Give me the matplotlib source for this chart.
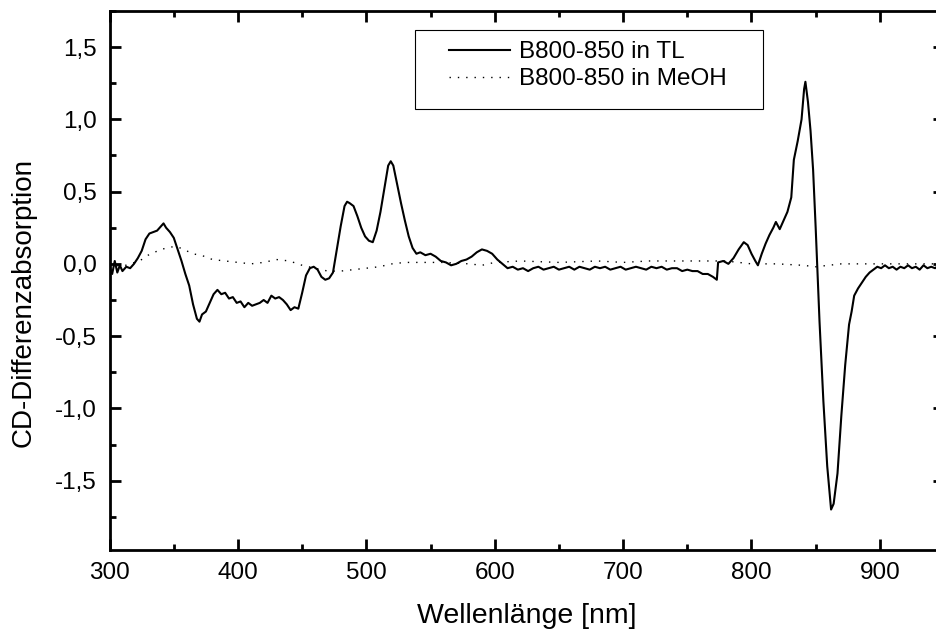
import numpy as np
import matplotlib.pyplot as plt
from matplotlib.patches import Rectangle
from matplotlib.ticker import FuncFormatter, MultipleLocator

plt.rcParams['font.family'] = ['Liberation Sans', 'DejaVu Sans']

# CD-Spektrum B800-850 in TL
wl_tl = [300, 302, 304, 306, 308, 310, 313, 316, 319, 322, 325, 328, 331, 334, 337,
         340, 342, 344, 347, 350, 353, 356, 359, 362, 365, 368, 370, 372, 375, 378,
         381, 384, 387, 390, 393, 396, 399, 402, 405, 408, 411, 414, 417, 420, 423,
         426, 429, 432, 435, 438, 441, 444, 447, 450, 453, 456, 459, 462, 465, 468,
         471, 474, 477, 480, 483, 485, 487, 490, 493, 496, 499, 502, 505, 508, 511,
         514, 517, 519, 521, 524, 527, 530, 533, 536, 539, 542, 546, 550, 554, 558,
         562, 566, 570, 574, 578, 582, 586, 590, 594, 598, 602, 606, 610, 614, 618,
         622, 626, 630, 634, 638, 642, 646, 650, 654, 658, 662, 666, 670, 674, 678,
         682, 686, 690, 694, 698, 702, 706, 710, 714, 718, 722, 726, 730, 734, 738,
         742, 746, 750, 754, 758, 762, 766, 770, 773, 774, 778, 782, 786, 790, 794,
         797, 800, 803, 805, 808, 811, 814, 817, 819, 822, 825, 828, 831, 833, 836,
         839, 841, 842, 844, 846, 848, 850, 853, 856, 859, 862, 864, 867, 870, 873,
         876, 878, 880, 883, 886, 889, 892, 895, 898, 901, 904, 907, 910, 913, 916,
         919, 922, 925, 928, 931, 934, 937, 940, 943, 946, 950]
cd_tl = [-0.02, -0.07, 0.02, -0.06, -0.01, -0.05, -0.02, -0.03, 0.00, 0.04, 0.09, 0.17, 0.21, 0.22, 0.23,
         0.26, 0.28, 0.25, 0.22, 0.18, 0.10, 0.02, -0.07, -0.15, -0.28, -0.38, -0.40, -0.35, -0.33, -0.27,
         -0.21, -0.18, -0.21, -0.20, -0.24, -0.23, -0.27, -0.26, -0.30, -0.27, -0.29, -0.28, -0.27, -0.25, -0.27,
         -0.22, -0.24, -0.23, -0.25, -0.28, -0.32, -0.30, -0.31, -0.20, -0.08, -0.03, -0.02, -0.04, -0.09, -0.11,
         -0.10, -0.06, 0.10, 0.26, 0.40, 0.43, 0.42, 0.40, 0.33, 0.25, 0.19, 0.16, 0.15, 0.23, 0.36,
         0.52, 0.68, 0.71, 0.68, 0.55, 0.42, 0.30, 0.19, 0.11, 0.07, 0.08, 0.06, 0.07, 0.05, 0.02,
         0.01, -0.01, 0.00, 0.02, 0.03, 0.05, 0.08, 0.10, 0.09, 0.07, 0.03, 0.00, -0.03, -0.02, -0.04,
         -0.03, -0.05, -0.03, -0.02, -0.04, -0.03, -0.02, -0.04, -0.03, -0.02, -0.04, -0.02, -0.03, -0.04, -0.02,
         -0.03, -0.02, -0.04, -0.03, -0.02, -0.04, -0.03, -0.02, -0.03, -0.04, -0.02, -0.03, -0.02, -0.04, -0.03,
         -0.03, -0.05, -0.04, -0.05, -0.05, -0.07, -0.07, -0.09, -0.11, 0.01, 0.02, 0.00, 0.04, 0.10, 0.15,
         0.13, 0.07, 0.02, -0.01, 0.07, 0.14, 0.20, 0.25, 0.29, 0.24, 0.30, 0.36, 0.46, 0.72, 0.85,
         1.00, 1.21, 1.26, 1.12, 0.92, 0.65, 0.25, -0.40, -0.95, -1.40, -1.70, -1.66, -1.45, -1.05, -0.70,
         -0.42, -0.33, -0.22, -0.17, -0.13, -0.09, -0.06, -0.04, -0.02, -0.03, -0.01, -0.03, -0.02, -0.04, -0.02,
         -0.03, -0.01, -0.03, -0.02, -0.04, -0.01, -0.03, -0.02, -0.03, -0.01, -0.03]

# CD-Spektrum B800-850 in MeOH
wl_meoh = [300, 305, 310, 315, 320, 325, 330, 335, 340, 345, 350, 355, 360, 365, 370,
           375, 380, 390, 400, 410, 420, 430, 440, 450, 460, 470, 480, 490, 500, 510,
           520, 530, 540, 560, 580, 590, 600, 620, 650, 680, 700, 720, 750, 780, 800,
           820, 840, 850, 860, 870, 880, 900, 920, 950]
cd_meoh = [-0.03, -0.01, -0.02, 0.00, 0.01, 0.03, 0.06, 0.08, 0.10, 0.11, 0.12, 0.11, 0.09, 0.07, 0.06,
           0.05, 0.03, 0.02, 0.01, 0.00, 0.01, 0.03, 0.02, -0.01, -0.03, -0.05, -0.05, -0.04, -0.03, -0.02,
           0.00, 0.01, 0.01, 0.01, 0.00, -0.01, 0.01, 0.02, 0.01, 0.02, 0.01, 0.02, 0.02, 0.02, 0.00,
           0.00, -0.01, -0.02, -0.01, 0.00, 0.00, 0.00, 0.00, 0.00]

fig = plt.figure(figsize=(9.36, 6.34), dpi=100)
ax = fig.add_axes([0.1171, 0.1325, 0.8915, 0.8502])

ax.plot(wl_tl, cd_tl, color='black', lw=1.5, label='B800-850 in TL')
ax.plot(wl_meoh, cd_meoh, color='black', lw=1.0, linestyle=(0, (1, 5)),
        label='B800-850 in MeOH')

ax.set_xlim(300, 950)
ax.set_ylim(-1.98, 1.75)

ax.xaxis.set_major_locator(MultipleLocator(100))
ax.xaxis.set_minor_locator(MultipleLocator(50))
ax.yaxis.set_major_locator(MultipleLocator(0.5))
ax.yaxis.set_minor_locator(MultipleLocator(0.25))
ax.yaxis.set_major_formatter(FuncFormatter(lambda v, p: f'{v:.1f}'.replace('.', ',')))

ax.tick_params(which='both', direction='in', top=True, right=True, width=2,
               labelsize=17.5, pad=9)
ax.tick_params(which='major', length=8)
ax.tick_params(which='minor', length=4.5)
for s in ax.spines.values():
    s.set_linewidth(2)

ax.set_xlabel('Wellenlänge [nm]', fontsize=20.5)
ax.set_ylabel('CD-Differenzabsorption', fontsize=20)
ax.xaxis.set_label_coords(0.5, -0.098)
ax.yaxis.set_label_coords(-0.087, 0.46)

# Legende mit eigenem Rahmen
ax.add_patch(Rectangle((0.366, 0.818), 0.417, 0.1466, transform=ax.transAxes,
                       fill=False, lw=0.8, ec='black', zorder=5))
ax.legend(loc='upper left', bbox_to_anchor=(0.4068, 0.944), frameon=False,
          fontsize=17.5, borderpad=0, borderaxespad=0, handlelength=2.5,
          handletextpad=0.37, labelspacing=0.2)

fig.savefig('out.png', dpi=100)
